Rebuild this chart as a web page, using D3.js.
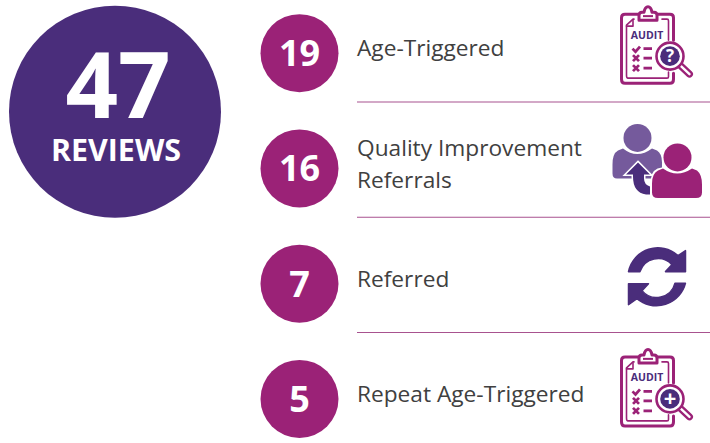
<!DOCTYPE html>
<html>
<head>
<meta charset="utf-8">
<script src="https://cdn.jsdelivr.net/npm/d3@7"></script>
<style>
  html, body { margin: 0; padding: 0; background: #fff; }
  svg { display: block; }
  text { font-family: "Open Sans", sans-serif; }
</style>
</head>
<body>
<svg></svg>
<script>
var width = 710;
var height = 443;

var totalValue = 47;
var totalLabel = "REVIEWS";
var counts = [19, 16, 7, 5];
var labels = [
  ["Age-Triggered"],
  ["Quality Improvement", "Referrals"],
  ["Referred"],
  ["Repeat Age-Triggered"]
];
var icons = ["auditQuestion", "people", "refresh", "auditPlus"];

var purple = "#4a2d7b";
var magenta = "#9b2277";
var lilac = "#755a9c";
var lineColor = "#a8528f";

var svg = d3.select("svg")
  .attr("width", width)
  .attr("height", height);

var rowScale = d3.scaleBand()
  .domain(d3.range(counts.length))
  .range([-4.5, 456.5]);

// big total circle
svg.append("circle")
  .attr("cx", 115)
  .attr("cy", 111.7)
  .attr("r", 106)
  .attr("fill", purple);

svg.append("text")
  .attr("x", 118)
  .attr("y", 118)
  .attr("text-anchor", "middle")
  .attr("fill", "#fff")
  .style("font-weight", 700)
  .style("font-size", "92px")
  .text(totalValue);

svg.append("text")
  .attr("x", 116)
  .attr("y", 161)
  .attr("text-anchor", "middle")
  .attr("fill", "#fff")
  .style("font-weight", 700)
  .style("font-size", "30.4px")
  .text(totalLabel);

var rows = svg.selectAll(".row")
  .data(counts)
  .enter()
  .append("g")
    .classed("row", true)
    .attr("transform", (d, i) => "translate(0," + (rowScale(i) + rowScale.bandwidth() / 2) + ")");

rows.append("circle")
  .attr("cx", 299.5)
  .attr("r", 39)
  .attr("fill", magenta);

rows.append("text")
  .attr("x", 299.5)
  .attr("y", 13)
  .attr("text-anchor", "middle")
  .attr("fill", "#fff")
  .style("font-weight", 700)
  .style("font-size", "36px")
  .text(d => d);

rows.each(function(d, i) {
  var lines = labels[i];
  var top = lines.length > 1 ? -12 : 3;
  d3.select(this).selectAll(".label")
    .data(lines)
    .enter()
    .append("text")
      .classed("label", true)
      .attr("x", 357)
      .attr("y", (l, j) => top + j * 32)
      .attr("fill", "#404040")
      .style("font-size", "22.7px")
      .text(l => l);
});

// dividers between the rows
svg.selectAll(".divider")
  .data(counts.slice(1))
  .enter()
  .append("line")
    .classed("divider", true)
    .attr("x1", 357)
    .attr("x2", 710)
    .attr("y1", (d, i) => rowScale(i + 1) - 8.75)
    .attr("y2", (d, i) => rowScale(i + 1) - 8.75)
    .attr("stroke", lineColor)
    .attr("stroke-width", 1.2);

rows.each(function(d, i) {
  var g = d3.select(this).append("g")
    .attr("transform", "translate(600," + (i === 0 ? -53 : i === 1 ? -58 : i === 2 ? -49 : -56) + ")");
  if (icons[i] === "auditQuestion") drawAudit(g, "?");
  if (icons[i] === "auditPlus") drawAudit(g, "+");
  if (icons[i] === "people") drawPeople(g);
  if (icons[i] === "refresh") drawRefresh(g);
});

// icons, sizes are in pixels from the top left of a 110 wide box
function drawAudit(g, sign) {
  var stroke = { fill: "none", stroke: magenta, "stroke-width": 3, "stroke-linejoin": "round", "stroke-linecap": "round" };
  var attrs = (sel, o) => { Object.keys(o).forEach(k => sel.attr(k, o[k])); return sel; };

  attrs(g.append("path"), stroke)
    .attr("d", "M38 14H25Q21.5 14 21.5 17.5V79Q21.5 83 25 83H70Q73.5 83 73.5 79V73M73.5 40V17.5Q73.5 14 70 14H58");
  attrs(g.append("path"), stroke)
    .attr("stroke-width", 1.6)
    .attr("d", "M34 19H33L26.5 25V75Q26.5 78 28 78H67Q68.5 78 68.5 76.5V72M68.5 40V20.5Q68.5 19 67 19H62");
  attrs(g.append("path"), stroke)
    .attr("fill", "#fff")
    .attr("d", "M39 20V15Q39 12 42 12H44Q45 6.5 48 6.5Q51 6.5 52 12H54Q57 12 57 15V20Z");
  g.append("path").attr("d", "M43 16H53").attr("stroke", magenta).attr("stroke-width", 2);
  attrs(g.append("path"), stroke)
    .attr("stroke-width", 1.6)
    .attr("d", "M33 20V26H26.5");

  g.append("text")
    .attr("x", 47)
    .attr("y", 38.5)
    .attr("text-anchor", "middle")
    .attr("fill", purple)
    .style("font-weight", 700)
    .style("font-size", "10.5px")
    .text("AUDIT");

  // check mark and two crosses, each with a dash
  g.append("path")
    .attr("d", "M32.5 48.5L35.5 51.5L40 46.5")
    .attr("fill", "none").attr("stroke", magenta).attr("stroke-width", 2.8);
  [58, 68].forEach(y => {
    g.append("path")
      .attr("d", "M33 " + (y - 3) + "L39 " + (y + 3) + "M39 " + (y - 3) + "L33 " + (y + 3))
      .attr("stroke", magenta).attr("stroke-width", 2.8);
  });
  [48.5, 58, 68].forEach(y => {
    g.append("path")
      .attr("d", "M43.5 " + y + "H52")
      .attr("stroke", magenta).attr("stroke-width", 2.8);
  });

  // magnifier
  g.append("line")
    .attr("x1", 81).attr("y1", 66).attr("x2", 89.5).attr("y2", 74)
    .attr("stroke", magenta).attr("stroke-width", 7).attr("stroke-linecap", "round");
  g.append("line")
    .attr("x1", 81).attr("y1", 66).attr("x2", 89.5).attr("y2", 74)
    .attr("stroke", "#fff").attr("stroke-width", 2.4).attr("stroke-linecap", "round");
  g.append("circle")
    .attr("cx", 70).attr("cy", 56).attr("r", 13.5)
    .attr("fill", "#fff").attr("stroke", magenta).attr("stroke-width", 2.6);
  g.append("circle")
    .attr("cx", 70).attr("cy", 56).attr("r", 9.8)
    .attr("fill", purple);
  g.append("text")
    .attr("x", 70)
    .attr("y", sign === "?" ? 62 : 63.5)
    .attr("text-anchor", "middle")
    .attr("fill", "#fff")
    .style("font-weight", 700)
    .style("font-size", sign === "?" ? "17px" : "22px")
    .text(sign);
}

function drawPeople(g) {
  // back person
  g.append("circle").attr("cx", 37.5).attr("cy", 27.5).attr("r", 14).attr("fill", lilac);
  g.append("path")
    .attr("fill", lilac)
    .attr("d", "M23 38Q37 49 52 38L57 40Q62 43 62 52V57Q52 58 51 68H17Q12.5 68 12.5 63V54Q12.5 43 18 40Z");
  // arrow going up, with a white halo
  var arrow = "M38 52L50 64H44V68Q44 74 50 76V84H46Q33 82 33 66V64H26Z";
  g.append("path").attr("d", arrow).attr("fill", purple).attr("stroke", "#fff").attr("stroke-width", 3).attr("paint-order", "stroke");
  // front person
  g.append("circle").attr("cx", 77.5).attr("cy", 47).attr("r", 14).attr("fill", magenta);
  g.append("path")
    .attr("fill", magenta)
    .attr("stroke", "#fff")
    .attr("stroke-width", 2)
    .attr("paint-order", "stroke")
    .attr("d", "M63 58Q77 68 92 58L97 60Q102 64 102 74V82Q102 87.5 96 87.5H58Q52 87.5 52 82V73Q52 63 58 60Z");
}

function drawRefresh(g) {
  // top arc with arrow head
  g.append("path")
    .attr("fill", purple)
    .attr("stroke", purple)
    .attr("stroke-width", 1.5)
    .attr("stroke-linejoin", "round")
    .attr("d", "M28.5 37A30 30 0 0 1 78 21L85.5 16V37H65.5L72 30A19 19 0 0 0 40 37Z");
  // bottom arc with arrow head
  g.append("path")
    .attr("fill", purple)
    .attr("stroke", purple)
    .attr("stroke-width", 1.5)
    .attr("stroke-linejoin", "round")
    .attr("d", "M85.5 48.5A30 30 0 0 1 37 64L28.5 70V49H48.5L42 56A19 19 0 0 0 75 48.5Z");
}
</script>
</body>
</html>
